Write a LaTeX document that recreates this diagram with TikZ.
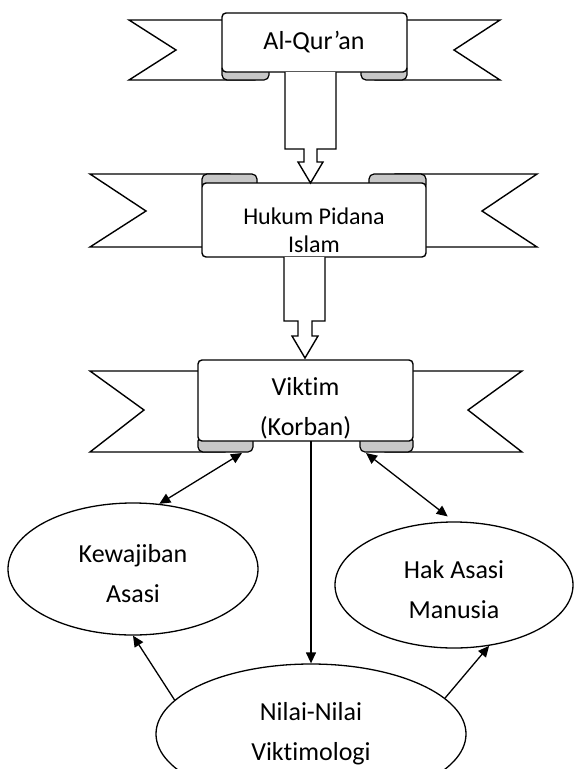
\documentclass[tikz,border=0pt]{standalone}
\usepackage{fontspec}
\setmainfont{Carlito}[Ligatures={TeX,NoCommon}]
\usepackage{tikz}
\usetikzlibrary{arrows.meta,shapes.geometric}
\newcommand{\ovalstrut}{\rule{0pt}{28pt}}
\tikzset{
 rib tail/.style={line width=1.4pt,fill=white,line join=miter},
 rib roll/.style={line width=1.2pt,fill=black!22,rounded corners=5pt},
 rib box/.style={line width=1.4pt,fill=white,rounded corners=4pt},
 rib text/.style={font=\fontsize{26}{40}\selectfont,align=center,inner sep=0pt},
 blk arrow/.style={line width=1.4pt,fill=white},
 conn/.style={line width=1.3pt,-{Triangle[length=11pt,width=10pt]}},
 conn both/.style={line width=1.3pt,{Triangle[length=11pt,width=10pt]}-{Triangle[length=11pt,width=10pt]}},
 oval/.style={ellipse,draw,line width=1.3pt,inner sep=0pt,align=center,
              font=\fontsize{26}{40}\selectfont}
}
\begin{document}
\begin{tikzpicture}[x=1pt,y=-1pt]
 \useasboundingbox (0,0) rectangle (574,769);
 \clip (0,0) rectangle (574,769);
 % ribbon 1, rolls below
 \draw[rib tail] (129,20) -- (255,20) -- (255,80) -- (129,80) -- (176,50) -- cycle;
 \draw[rib tail] (500,20) -- (375,20) -- (375,80) -- (500,80) -- (454,50) -- cycle;
 \foreach \xa/\xb in {222/269,361/407}{\draw[rib roll] (\xa,64) rectangle (\xb,80);}
 \draw[rib box] (222,13) rectangle (407,72);
 \node[rib text] (quran) at (314,42) {Al-Qur’an};
 % ribbon 2, rolls above
 \draw[rib tail] (90,174) -- (230,174) -- (230,247) -- (90,247) -- (146,211) -- cycle;
 \draw[rib tail] (537,174) -- (395,174) -- (395,247) -- (537,247) -- (482,211) -- cycle;
 \foreach \xa/\xb in {202/257,369/426}{\draw[rib roll] (\xa,174) rectangle (\xb,190);}
 \draw[rib box] (202,183) rectangle (426,257);
 \node[rib text,font=\fontsize{24}{28}\selectfont] (pidana) at (314,230) {Hukum Pidana\\Islam};
 % ribbon 3, rolls below
 \draw[rib tail] (90,371) -- (225,371) -- (225,452) -- (90,452) -- (144,410) -- cycle;
 \draw[rib tail] (522,371) -- (385,371) -- (385,452) -- (522,452) -- (468,410) -- cycle;
 \foreach \xa/\xb in {198/253,360/413}{\draw[rib roll] (\xa,436) rectangle (\xb,452);}
 \draw[rib box] (198,360) rectangle (413,441);
 \node[rib text] (viktim) at (305.5,408) {Viktim\\(Korban)};
 \coordinate (vleft) at (242,453);
 \coordinate (vright) at (366,453);
 \coordinate (vbot) at (311,441);
 % hollow block arrows
 \draw[blk arrow] (285,72) -- (285,149) -- (304,149) -- (304,162) -- (298,162)
   -- (310.5,183) -- (323,162) -- (317,162) -- (317,149) -- (336,149) -- (336,72);
 \draw[blk arrow] (284,257) -- (284,321) -- (298,321) -- (298,336) -- (292,336)
   -- (305,358) -- (318,336) -- (312,336) -- (312,321) -- (325,321) -- (325,257);
 % ovals
 \node[oval,minimum width=250,minimum height=132] (kewajiban) at (133,569) {\ovalstrut Kewajiban\\Asasi};
 \node[oval,minimum width=238,minimum height=126] (hak) at (454,585) {\ovalstrut Hak Asasi\\Manusia};
 \node[oval,minimum width=310,minimum height=140] (nilai) at (311,734) {Nilai-Nilai\\Viktimologi};
 % connectors
 \draw[conn] (vbot) -- (nilai.north);
 \draw[conn both] (vleft) -- (kewajiban.68);
 \draw[conn both,shorten >=8pt] (vright) -- (hak.north);
 \draw[conn] (nilai.166) -- (kewajiban.south);
 \draw[conn] (nilai.15) -- (hak.300);
\end{tikzpicture}
\end{document}
